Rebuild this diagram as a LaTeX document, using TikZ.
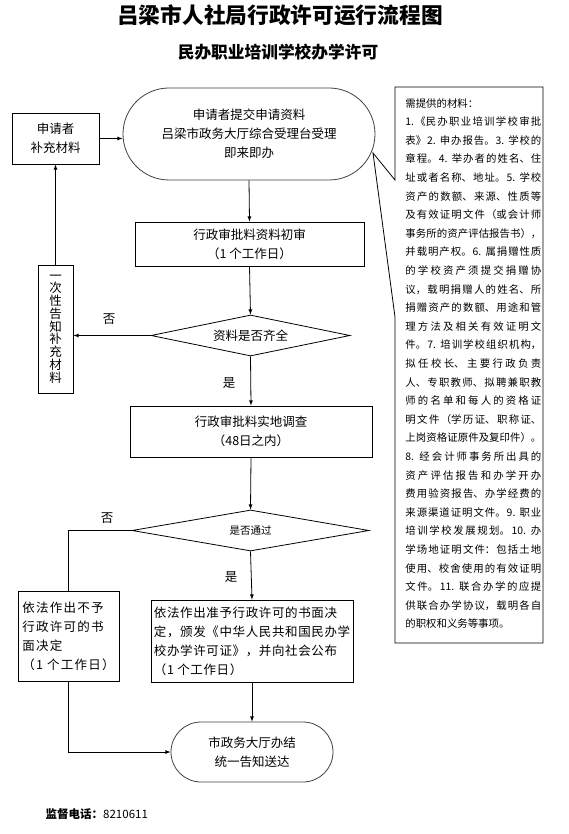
\documentclass[tikz,border=0pt]{standalone}
\usepackage{fontspec}
\setmainfont{Noto Sans CJK SC}
\usetikzlibrary{shapes.geometric}
\XeTeXlinebreaklocale "zh"
\XeTeXlinebreakskip=0pt plus 3pt

\begin{document}
\begin{tikzpicture}[x=1pt, y=-1pt, line width=0.8pt, >=latex,
        txt/.style={font=\fontsize{12.5}{19}\selectfont},
        box/.style={txt, draw, rectangle, inner sep=0pt, align=center},
        term/.style={txt, draw=black!75, rectangle, rounded corners=#1, inner sep=0pt, align=center},
        decide/.style={txt, draw, diamond, aspect=5, inner sep=0pt},
        flow/.style={->, black}]
        \useasboundingbox (0,0) rectangle (569,834);

        \node[font=\fontsize{21.7}{24}\selectfont\bfseries] (title) at (280,15) {吕梁市人社局行政许可运行流程图};
        \node[font=\fontsize{16.7}{20}\selectfont\bfseries] (subtitle) at (278,52) {民办职业培训学校办学许可};

        \node[term=46pt, minimum width=252pt, minimum height=92pt] (start) at (249,134) {申请者提交申请资料\\吕梁市政务大厅综合受理台受理\\即来即办};
        \node[box, minimum width=87pt, minimum height=51pt] (applicant) at (55.5,138.5) {申请者\\补充材料};
        \node[box, minimum width=229pt, minimum height=44pt] (review) at (249.5,244) {行政审批料资料初审\\（1 个工作日）};
        \node[decide, minimum width=199pt, minimum height=41pt] (check) at (250.5,335.5) {资料是否齐全};
        \node[box, minimum width=35pt, minimum height=128pt, font=\fontsize{12.5}{12.75}\selectfont] (notify) at (55.5,329) {一\\次\\性\\告\\知\\补\\充\\材\\料};
        \node[box, minimum width=242pt, minimum height=51pt] (survey) at (251,431.5) {行政审批料实地调查\\（48日之内）};
        \node[decide, minimum width=237pt, minimum height=41pt, font=\fontsize{10.5}{12}\selectfont] (pass) at (250.5,530.5) {是否通过};
        \node[box, minimum width=101pt, minimum height=90pt, align=left, font=\fontsize{12.5}{19}\selectfont\addfontfeatures{LetterSpace=10}] (deny) at (68.5,636) {依法作出不予\\行政许可的书\\面决定\\（1 个工作日）};
        \node[box, minimum width=202pt, minimum height=82pt, align=left, font=\fontsize{12.5}{19}\selectfont\addfontfeatures{LetterSpace=5}] (grant) at (252,641) {依法作出准予行政许可的书面决\\定，颁发《中华人民共和国民办学\\校办学许可证》，并向社会公布\\（1 个工作日）};
        \node[term=30pt, minimum width=162pt, minimum height=60pt] (done) at (252,752) {市政务大厅办结\\统一告知送达};

        \node[txt] (no1) at (109,319) {否};
        \node[txt] (yes1) at (229,383) {是};
        \node[txt] (no2) at (107,518) {否};
        \node[txt] (yes2) at (231,577) {是};

        \draw[flow] (applicant.east) -- (applicant.east -| start.west);
        \draw[flow] (notify.north) -- (applicant.south);
        \draw[flow] (start.south) -- (review.north);
        \draw[flow] (review.south) -- (check.north);
        \draw[flow] (check.west) -- (check.west -| notify.east);
        \draw[flow] (check.south) -- (survey.north);
        \draw[flow] (survey.south) -- (pass.north);
        \draw (pass.west) -| (deny.north);
        \draw[flow] (pass.south) -- (grant.north);
        \draw[flow] (grant.south) -- (done.north);
        \draw[flow] (deny.south) |- (done.west);

        % list of required materials
        \coordinate (tip) at (373,153);
        \draw (395,87) -- (543,87) -- (543,643) -- (395,643) -- (395,317) -- (tip) -- (395,180) -- cycle;
        \node[anchor=north west, text width=136pt, inner sep=0pt, align=justify, font=\fontsize{10.4}{18.6}\selectfont] (materials) at (405,98) {需提供的材料：\newline
1.《民办职业培训学校审批\linebreak
表》2. 申办报告。3. 学校的\linebreak
章程。4. 举办者的姓名、住\linebreak
址或者名称、地址。5. 学校\linebreak
资产的数额、来源、性质等\linebreak
及有效证明文件（或会计师\linebreak
事务所的资产评估报告书），\linebreak
并载明产权。6. 属捐赠性质\linebreak
的学校资产须提交捐赠协\linebreak
议，载明捐赠人的姓名、所\linebreak
捐赠资产的数额、用途和管\linebreak
理方法及相关有效证明文\linebreak
件。7. 培训学校组织机构，\linebreak
拟任校长、主要行政负责\linebreak
人、专职教师、拟聘兼职教\linebreak
师的名单和每人的资格证\linebreak
明文件（学历证、职称证、\linebreak
上岗资格证原件及复印件）。\linebreak
8. 经会计师事务所出具的\linebreak
资产评估报告和办学开办\linebreak
费用验资报告、办学经费的\linebreak
来源渠道证明文件。9. 职业\linebreak
培训学校发展规划。10. 办\linebreak
学场地证明文件：包括土地\linebreak
使用、校舍使用的有效证明\linebreak
文件。11. 联合办学的应提\linebreak
供联合办学协议，载明各自\linebreak
的职权和义务等事项。};

        \node[anchor=west, font=\fontsize{11.5}{14}\selectfont] (phone) at (42,814) {\textbf{监督电话：}8210611};
    \end{tikzpicture}
\end{document}
